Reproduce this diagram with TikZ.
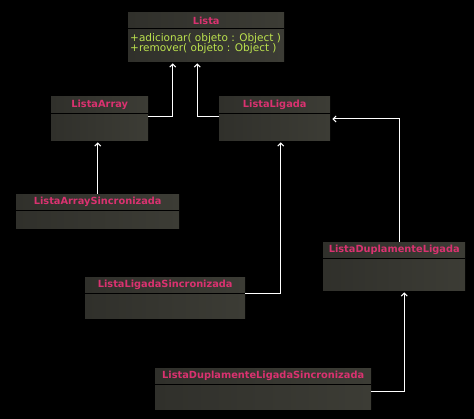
\documentclass[tikz,border=0pt]{standalone}
\usepackage{fontspec}
\setmainfont{DejaVu Sans}
\usetikzlibrary{arrows.meta,calc}
\definecolor{boxfillA}{HTML}{30302B}
\definecolor{boxfillB}{HTML}{3C3C35}
\definecolor{titlepink}{HTML}{DA3270}
\definecolor{methgreen}{HTML}{BCE24E}
\tikzset{
  classbox/.style={draw=none, left color=boxfillA, right color=boxfillB, anchor=north west, inner sep=0pt},
  classtitle/.style={text=titlepink, font=\fontsize{9.8}{11}\bfseries, inner sep=0pt},
  meth/.style={text=methgreen, font=\fontsize{10.5}{12}\selectfont, inner sep=0pt, anchor=west},
  divider/.style={draw=black, line width=1pt},
  inh/.style={draw=white, line width=1pt, -{Straight Barb[length=3pt,width=6pt]}, shorten >=2pt},
}
\begin{document}
\begin{tikzpicture}[x=1pt,y=-1pt]
\fill[black] (0,0) rectangle (474,419);
\useasboundingbox (0,0) rectangle (474,419);

% Lista
\node[classbox, minimum width=156pt, minimum height=49pt] (lista) at (128,12) {};
\node[classtitle] (listaT) at ($(lista.north)+(0,8.7)$) {Lista};
\draw[divider] ($(lista.north west)+(0,17)$) -- ($(lista.north east)+(0,17)$);
\node[meth] (m1) at ($(lista.north west)+(2,26.5)$) {+adicionar( objeto : Object )};
\node[meth] (m2) at ($(lista.north west)+(2,37)$) {+remover( objeto : Object )};

% ListaArray
\node[classbox, minimum width=97pt, minimum height=44pt] (la) at (51,96) {};
\node[classtitle] (laT) at ($(la.north)+(0,8.5)$) {ListaArray};
\draw[divider] ($(la.north west)+(0,17.5)$) -- ($(la.north east)+(0,17.5)$);

% ListaLigada
\node[classbox, minimum width=111pt, minimum height=44pt] (ll) at (219,96) {};
\node[classtitle] (llT) at ($(ll.north)+(0,8.5)$) {ListaLigada};
\draw[divider] ($(ll.north west)+(0,17.5)$) -- ($(ll.north east)+(0,17.5)$);

% ListaArraySincronizada
\node[classbox, minimum width=163pt, minimum height=34pt] (las) at (16,194) {};
\node[classtitle] (lasT) at ($(las.north)+(0,8.3)$) {ListaArraySincronizada};
\draw[divider] ($(las.north west)+(0,16.5)$) -- ($(las.north east)+(0,16.5)$);

% ListaDuplamenteLigada
\node[classbox, minimum width=142pt, minimum height=48pt] (ldl) at (323,242) {};
\node[classtitle] (ldlT) at ($(ldl.north)+(0,8)$) {ListaDuplamenteLigada};
\draw[divider] ($(ldl.north west)+(0,17)$) -- ($(ldl.north east)+(0,17)$);

% ListaLigadaSincronizada
\node[classbox, minimum width=160pt, minimum height=41pt] (lls) at (85,277) {};
\node[classtitle] (llsT) at ($(lls.north)+(0,8.3)$) {ListaLigadaSincronizada};
\draw[divider] ($(lls.north west)+(0,17)$) -- ($(lls.north east)+(0,17)$);

% ListaDuplamenteLigadaSincronizada
\node[classbox, minimum width=216pt, minimum height=41pt] (ldls) at (155,368) {};
\node[classtitle] (ldlsT) at ($(ldls.north)+(0,8.3)$) {ListaDuplamenteLigadaSincronizada};
\draw[divider] ($(ldls.north west)+(0,17)$) -- ($(ldls.north east)+(0,17)$);

% connectors
\draw[inh] ($(la.north east)+(0,21)$) -| ([xshift=-33.5]lista.south);
\draw[inh] ($(ll.north west)+(0,21)$) -| ([xshift=-9]lista.south);
\draw[inh] (las.north) -- (las.north |- la.south);
\draw[inh] ($(lls.north east)+(0,17)$) -| ([xshift=6]ll.south);
\draw[inh] ([xshift=5.5]ldl.north) |- ($(ll.north east)+(0,23)$);
\draw[inh] ($(ldls.north east)+(0,24)$) -| ([xshift=10]ldl.south);
\end{tikzpicture}
\end{document}
